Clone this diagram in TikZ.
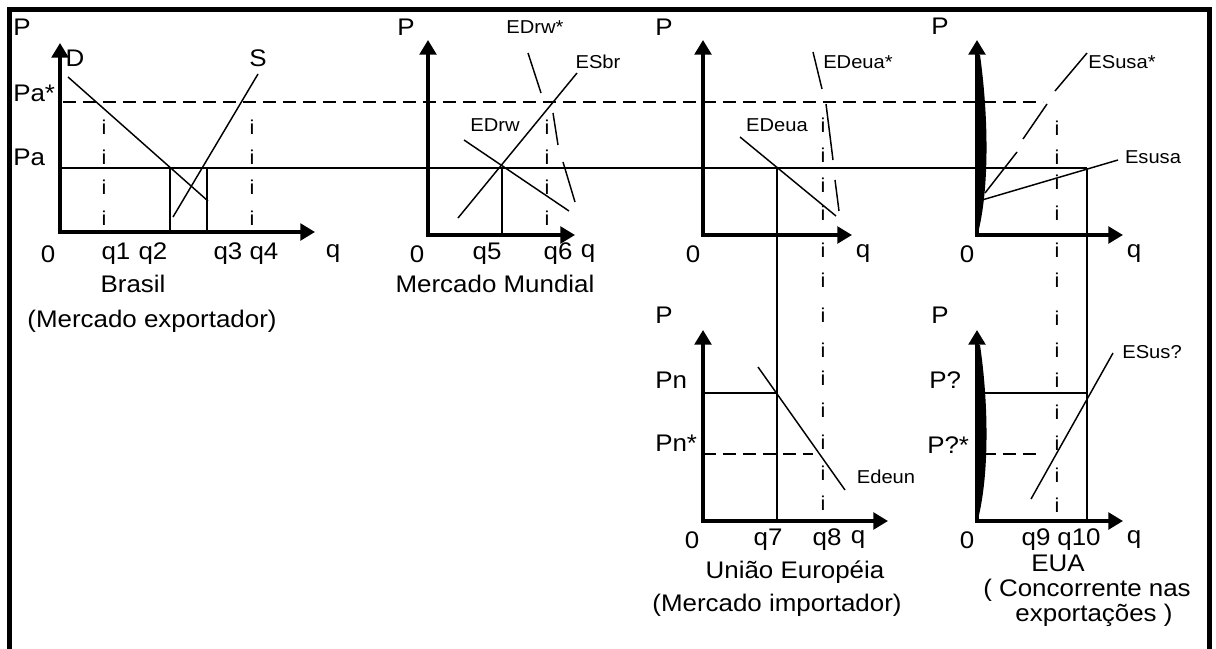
\documentclass[tikz,border=0pt]{standalone}
\usepackage{fontspec}
\setmainfont[FakeStretch=1.08]{Liberation Sans}
\usetikzlibrary{arrows.meta}

\begin{document}
\begin{tikzpicture}[x=0.75pt, y=-0.75pt,
  axis/.style={line width=2.6pt, line join=miter,
               {Triangle[length=11pt,width=12.5pt]}-{Triangle[length=11pt,width=12.5pt]}},
  crv/.style={line width=1.1pt},
  dsh/.style={line width=1.1pt, dash pattern=on 10pt off 5pt},
  big/.style={inner sep=0pt, font=\fontsize{18}{20}\selectfont},
  sml/.style={inner sep=0pt, font=\fontsize{14}{16}\selectfont},
  imark/.style={inner sep=0pt, font=\fontsize{15}{17}\selectfont}
]
  \useasboundingbox (0,0) rectangle (1216,649);

  % frame
  \draw[line width=3.75pt] (9,649) -- (9,10) -- (1209,10) -- (1209,649);

  % origins of the six panels
  \coordinate (bo) at (60,232);
  \coordinate (mo) at (428,235);
  \coordinate (eo) at (703,235);
  \coordinate (uo) at (977,235);
  \coordinate (elo) at (703,521);
  \coordinate (ulo) at (977,521);

  % axes
  \draw[axis] (315,232) -- (bo) -- (60,43);
  \draw[axis] (575,235) -- (mo) -- (428,40);
  \draw[axis] (852,235) -- (eo) -- (703,40);
  \draw[axis] (1123,235) -- (uo) -- (977,40);
  \draw[axis] (888,521) -- (elo) -- (703,330);
  \draw[axis] (1123,521) -- (ulo) -- (977,330);
  \fill (975,233) -- (975,55) -- (980,55) .. controls (989,120) and (989,190) .. (978,233) -- cycle;
  \fill (975,519) -- (975,345) -- (980,345) .. controls (989,406) and (989,476) .. (978,519) -- cycle;

  % prices
  \draw[dsh] (63,102) -- (1043,102);
  \draw[crv] (60,168) -- (1087,168);
  \draw[crv] (703,393) -- (777,393);
  \draw[dsh] (703,454) -- (813,454);
  \draw[crv] (983,393) -- (1087,393);
  \draw[dsh] (983,454) -- (1040,454);

  % quantities
  \draw[crv] (170,168) -- (170,232);
  \draw[crv] (207,168) -- (207,232);
  \draw[crv] (502,168) -- (502,235);
  \draw[crv] (777,168) -- (777,521);
  \draw[crv] (1087,168) -- (1087,521);

  % curves
  \draw[crv] (68,77) -- (208,201);
  \draw[crv] (173,217) -- (258,74);
  \draw[crv] (458,218) -- (577,73);
  \draw[crv] (464,140) -- (569,211);
  \draw[crv] (528,53) -- (541,93) (553,113) -- (558,145) (563,162) -- (575,202);
  \draw[crv] (740,137) -- (836,216);
  \draw[crv] (813,52) -- (822,89) (826,104) -- (833,160) (835,180) -- (839,211);
  \draw[crv] (1087,53) -- (1055,91) (1047,104) -- (1023,139) (1017,152) -- (985,193);
  \draw[crv] (982,200) -- (1118,160);
  \draw[crv] (758,367) -- (845,490);
  \draw[crv] (1031,499) -- (1113,353);

  % i marks
  \foreach \y [count=\k] in {127,157,187,218} {
    \node[imark] (ia\k) at (104,\y) {i};
    \node[imark] (ib\k) at (252,\y) {i};
    \node[imark] (ic\k) at (547,\y) {i};
  }
  \foreach \y [count=\k] in {125,155,185,213,250,280,315,350,378,410,442,473,503}
    \node[imark] (ie\k) at (823,\y) {i};
  \foreach \y [count=\k] in {128,157,182,213,250,280,318,350,380,412,443,475,505}
    \node[imark] (iu\k) at (1057,\y) {i};

  % Brasil
  \node[big, anchor=west] (bP) at (13,27) {P};
  \node[big] (bD) at (75,58) {D};
  \node[big] (bS) at (258,58) {S};
  \node[big, anchor=west] (bPa2) at (13,93) {Pa*};
  \node[big, anchor=west] (bPa) at (13,157) {Pa};
  \node[big] (b0) at (48,254) {0};
  \node[big] (bq1) at (116,254) {q1};
  \node[big] (bq2) at (153,254) {q2};
  \node[big] (bq3) at (228,254) {q3};
  \node[big] (bq4) at (264,254) {q4};
  \node[big] (bq) at (333,254) {q};
  \node[big] (bname) at (133,284) {Brasil};
  \node[big] (bsub) at (152,321) {(Mercado exportador)};

  % Mercado Mundial
  \node[big, anchor=west] (mP) at (397,27) {P};
  \node[sml] (mEDs) at (535,27) {EDrw*};
  \node[sml] (mES) at (598,62) {ESbr};
  \node[sml] (mED) at (495,125) {EDrw};
  \node[big] (m0) at (417,254) {0};
  \node[big] (mq5) at (487,254) {q5};
  \node[big] (mq6) at (558,254) {q6};
  \node[big] (mq) at (588,254) {q};
  \node[big] (mname) at (495,284) {Mercado Mundial};

  % UE
  \node[big, anchor=west] (eP) at (655,27) {P};
  \node[sml] (eEDs) at (858,62) {EDeua*};
  \node[sml] (eED) at (777,125) {EDeua};
  \node[big] (e0) at (693,254) {0};
  \node[big] (eq) at (863,254) {q};
  \node[big, anchor=west] (elP) at (655,315) {P};
  \node[big, anchor=west] (elPn) at (655,380) {Pn};
  \node[big, anchor=west] (elPn2) at (655,443) {Pn*};
  \node[sml] (elED) at (886,477) {Edeun};
  \node[big] (el0) at (692,540) {0};
  \node[big] (elq7) at (768,540) {q7};
  \node[big] (elq8) at (827,540) {q8};
  \node[big] (elq) at (858,540) {q};
  \node[big] (elname) at (795,572) {União Européia};
  \node[big] (elsub) at (777,605) {(Mercado importador)};

  % EUA
  \node[big, anchor=west] (uP) at (931,26) {P};
  \node[sml] (uESs) at (1122,62) {ESusa*};
  \node[sml] (uES) at (1153,157) {Esusa};
  \node[big] (u0) at (967,254) {0};
  \node[big] (uq) at (1134,254) {q};
  \node[big, anchor=west] (ulP) at (931,315) {P};
  \node[big, anchor=west] (ulPq) at (929,380) {P?};
  \node[big, anchor=west] (ulPq2) at (927,445) {P?*};
  \node[sml] (ulES) at (1152,352) {ESus?};
  \node[big] (ul0) at (967,540) {0};
  \node[big] (ulq9) at (1036,540) {q9};
  \node[big] (ulq10) at (1079,540) {q10};
  \node[big] (ulq) at (1134,540) {q};
  \node[big] (ulname) at (1058,563) {EUA};
  \node[big, anchor=east] (ulsub) at (1191,590) {( Concorrente nas};
  \node[big] (ulsub2) at (1094,615) {exportações )};
\end{tikzpicture}
\end{document}
